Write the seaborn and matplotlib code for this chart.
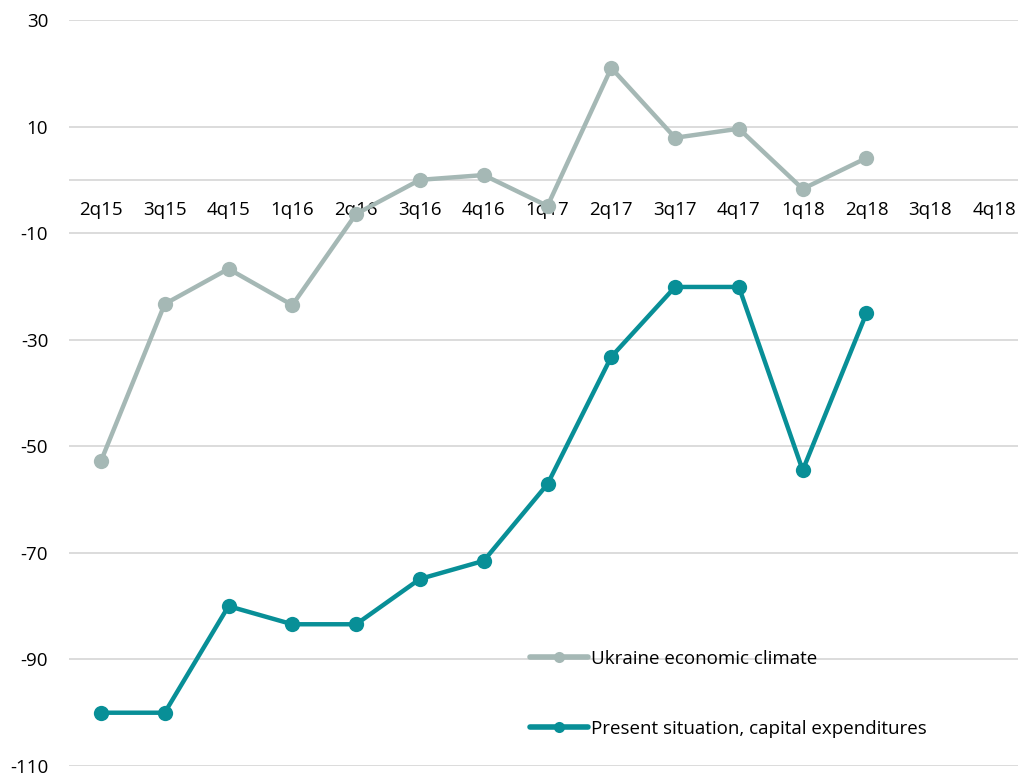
import matplotlib
matplotlib.use("Agg")
import matplotlib.pyplot as plt
import seaborn as sns
import pandas as pd

quarters = ["2q15", "3q15", "4q15", "1q16", "2q16", "3q16", "4q16", "1q17",
            "2q17", "3q17", "4q17", "1q18", "2q18", "3q18", "4q18"]
economic_climate = [-52.8, -23.3, -16.7, -23.5, -6.4, 0.0, 0.9, -4.9,
                    21.0, 7.9, 9.6, -1.7, 4.1]
capital_expenditures = [-100.0, -100.0, -80.0, -83.4, -83.4, -74.9, -71.5, -57.1,
                        -33.2, -20.1, -20.1, -54.5, -25.0]
series_names = ["Ukraine economic climate", "Present situation, capital expenditures"]
series_colors = ["#a5b8b5", "#088f97"]
y_ticks = [-110, -90, -70, -50, -30, -10, 10, 30]

sns.set_theme(style="white")
plt.rcParams["font.family"] = ["Open Sans", "DejaVu Sans"]

W, H = 1018, 775
fig = plt.figure(figsize=(W / 100, H / 100), dpi=100)
left, right, top, bottom = 69, 1026, 20, 766
ax = fig.add_axes([left / W, 1 - bottom / H, (right - left) / W, (bottom - top) / H])

frames = []
for name, vals in zip(series_names, [economic_climate, capital_expenditures]):
    frames.append(pd.DataFrame({"pos": range(len(vals)), "value": vals, "series": name}))
df = pd.concat(frames, ignore_index=True)

for name, color in zip(series_names, series_colors):
    sub = df[df["series"] == name]
    sns.lineplot(data=sub, x="pos", y="value", ax=ax, color=color, linewidth=3.2,
                 marker="o", markersize=11, markeredgewidth=0, label=name,
                 zorder=3)

ax.set_xlim(-0.5, len(quarters) - 0.5)
ax.set_ylim(-110, 30)
ax.set_yticks(y_ticks)
ax.set_yticklabels([str(t) for t in y_ticks])
ax.yaxis.grid(True, color="#d9d9d9", linewidth=1.3)
ax.set_axisbelow(True)
ax.axhline(0, color="#d9d9d9", linewidth=1.3, zorder=1)

ax.set_xticks(range(len(quarters)))
ax.set_xticklabels(quarters)
ax.spines["bottom"].set_position(("data", 0))
for s in ax.spines.values():
    s.set_visible(False)
ax.tick_params(axis="x", length=0, pad=15, labelsize=13.5, colors="#000000")
ax.tick_params(axis="y", length=0, pad=15, labelsize=13.5, colors="#000000")
ax.set_xlabel("")
ax.set_ylabel("")

leg = ax.legend(loc="upper left", bbox_to_anchor=(530 / W, 1 - 650 / H),
                bbox_transform=fig.transFigure, frameon=False, fontsize=13.5,
                handlelength=3.1, handletextpad=0.15, labelspacing=2.75,
                borderpad=0, borderaxespad=0, labelcolor="#000000")
for h in leg.legend_handles:
    h.set_markersize(8)
    h.set_linewidth(4)

fig.savefig("out.png", dpi=100)
